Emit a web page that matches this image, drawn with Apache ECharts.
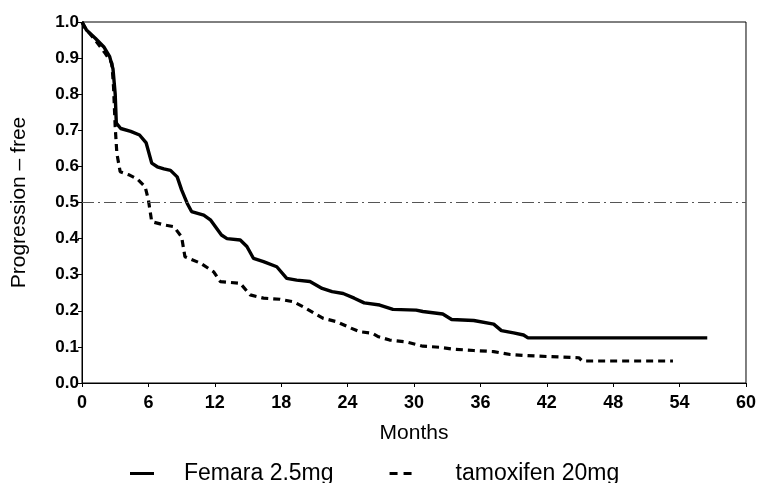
<!DOCTYPE html>
<html>
<head>
<meta charset="utf-8">
<script src="https://cdn.jsdelivr.net/npm/echarts@6/dist/echarts.min.js"></script>
<style>html,body{margin:0;padding:0;background:#fff}#c{width:759px;height:483px}</style>
</head>
<body>
<div id="c"></div>
<script>
const xTicks = [0, 6, 12, 18, 24, 30, 36, 42, 48, 54, 60];
const yTicks = [0.0, 0.1, 0.2, 0.3, 0.4, 0.5, 0.6, 0.7, 0.8, 0.9, 1.0];
const femaraMonths = [0,0.4,1.2,2.0,2.5,2.8,3.0,3.05,3.1,3.5,4.4,5.2,5.8,6.3,6.8,7.4,8.0,8.6,9.0,9.5,9.9,11.0,11.6,12.6,13.1,14.3,14.9,15.5,16.4,17.6,18.5,19.4,20.6,21.7,22.6,23.6,24.6,25.5,26.9,28.1,30.2,30.8,32.6,33.4,35.4,37.2,37.9,39.0,39.9,40.3,56.5];
const femaraSurv = [1.0,0.978,0.955,0.93,0.904,0.87,0.80,0.76,0.72,0.705,0.697,0.687,0.665,0.609,0.599,0.593,0.589,0.571,0.535,0.498,0.475,0.465,0.452,0.41,0.40,0.396,0.378,0.345,0.336,0.322,0.29,0.285,0.281,0.262,0.253,0.248,0.235,0.222,0.216,0.204,0.202,0.198,0.191,0.176,0.173,0.163,0.145,0.139,0.133,0.125,0.125];
const tamMonths = [0,0.3,1.2,2.1,2.7,2.85,3.0,3.15,3.45,4.3,5.0,5.7,6.0,6.3,7.4,8.3,9.0,9.3,10.7,11.9,12.5,14.3,15.2,16.4,17.9,19.1,20.0,21.8,23.0,24.3,25.1,26.2,26.8,27.8,29.3,30.8,32.3,33.5,35.4,37.2,38.7,40.2,42.3,44.9,45.2,53.4];
const tamSurv = [1.0,0.982,0.95,0.913,0.886,0.82,0.71,0.636,0.585,0.576,0.565,0.544,0.507,0.447,0.438,0.433,0.405,0.35,0.332,0.308,0.281,0.276,0.244,0.235,0.232,0.225,0.211,0.179,0.17,0.152,0.142,0.138,0.128,0.119,0.114,0.102,0.099,0.094,0.090,0.087,0.079,0.076,0.073,0.070,0.061,0.061];
const seriesNames = ['Femara 2.5mg', 'tamoxifen 20mg'];
const refLevel = 0.5;

const zip = (xs, ys) => xs.map((x, i) => [x, ys[i]]);
const font = 'Liberation Sans, Arial, sans-serif';

const chart = echarts.init(document.getElementById('c'), null, {renderer: 'canvas'});
chart.setOption({
  animation: false,
  backgroundColor: '#fff',
  grid: {left: 82, right: 13, top: 22, bottom: 100, show: true, borderColor: '#000', borderWidth: 1, backgroundColor: 'transparent'},
  legend: {
    left: 125, top: 457,
    itemWidth: 24, itemHeight: 3, itemGap: 56,
    textStyle: {fontFamily: font, fontSize: 23, color: '#000'},
    itemStyle: {color: '#000', borderWidth: 0},
    data: [
      {name: seriesNames[0], icon: 'path://M0,0H24V3H0Z', textStyle: {padding: [0, 0, 0, 25]}},
      {name: seriesNames[1], icon: 'path://M0,0H8V3H0ZM14,0H22V3H14Z', itemWidth: 20, textStyle: {padding: [0, 0, 0, 38]}}
    ]
  },
  xAxis: {
    type: 'value', min: 0, max: 60, interval: 6,
    name: 'Months', nameLocation: 'middle', nameGap: 40,
    nameTextStyle: {fontFamily: font, fontSize: 21, color: '#000'},
    axisLine: {show: true, lineStyle: {color: '#000', width: 1}},
    axisTick: {show: true, length: 4, lineStyle: {color: '#000'}},
    axisLabel: {fontFamily: font, fontSize: 18, fontWeight: 'bold', color: '#000', margin: 11,
      formatter: v => xTicks.includes(v) ? String(v) : ''},
    splitLine: {show: false}
  },
  yAxis: {
    type: 'value', min: 0, max: 1, interval: 0.1,
    name: 'Progression – free', nameLocation: 'middle', nameGap: 52, nameRotate: 90,
    nameTextStyle: {fontFamily: font, fontSize: 21, color: '#000'},
    axisLine: {show: true, lineStyle: {color: '#000', width: 1}},
    axisTick: {show: true, length: 4, lineStyle: {color: '#000'}},
    axisLabel: {fontFamily: font, fontSize: 17, fontWeight: 'bold', color: '#000', margin: 3,
      formatter: v => { const t = yTicks.find(y => Math.abs(y - v) < 1e-6); return t === undefined ? '' : t.toFixed(1); }},
    splitLine: {show: false}
  },
  series: [
    {
      name: seriesNames[0], type: 'line', symbol: 'none', data: zip(femaraMonths, femaraSurv),
      lineStyle: {color: '#000', width: 3.4, type: 'solid'}, itemStyle: {color: '#000'},
      markLine: {
        silent: true, symbol: 'none', label: {show: false},
        lineStyle: {color: '#555', width: 1, type: [12, 4, 2, 4]},
        data: [{yAxis: refLevel}]
      },
      z: 3
    },
    {
      name: seriesNames[1], type: 'line', symbol: 'none', data: zip(tamMonths, tamSurv),
      lineStyle: {color: '#000', width: 3.2, type: [7, 5]}, itemStyle: {color: '#000'},
      z: 3
    }
  ]
});
</script>
</body>
</html>
